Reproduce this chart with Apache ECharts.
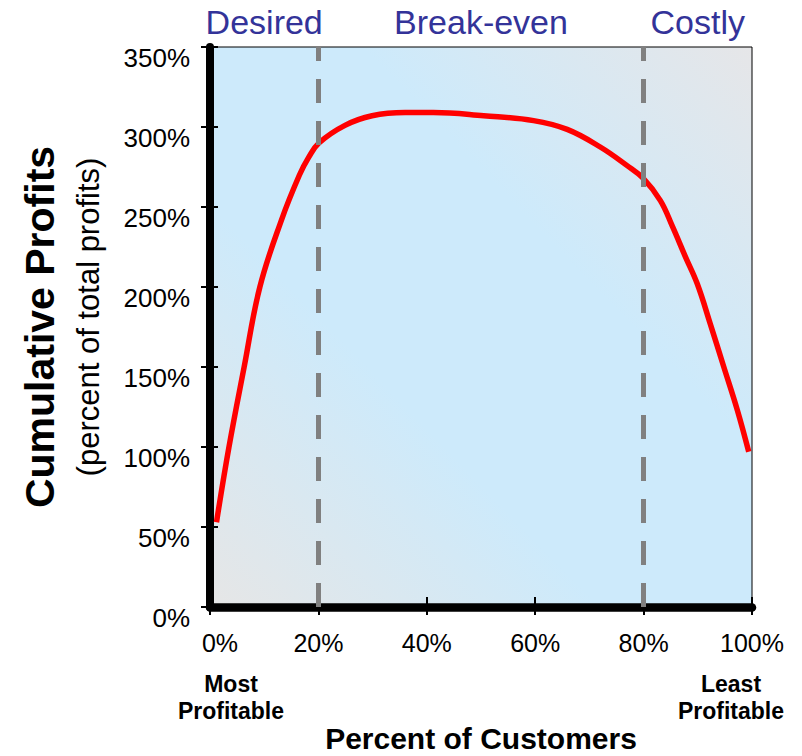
<!DOCTYPE html>
<html>
<head>
<meta charset="utf-8">
<script src="https://cdn.jsdelivr.net/npm/echarts@6/dist/echarts.min.js"></script>
<style>
  html, body { margin: 0; padding: 0; background: #ffffff; }
  #chart { width: 802px; height: 756px; }
</style>
</head>
<body>
<div id="chart"></div>
<script>
// ---- data ----
const customerPct = [1.2, 3.5, 6.3, 9.2, 13.2, 16.5, 18.2, 20.1, 24.9, 29.9, 36.0, 41.2, 50.5, 59.7, 65.9, 72.0, 76.9, 79.9, 83.1, 85.3, 87.7, 89.9, 92.3, 94.8, 97.3, 99.4];
const cumulativeProfit = [53, 100, 150, 200, 242, 270, 281, 290, 301, 307, 309, 309, 307, 304, 298.5, 287.5, 276, 268, 254, 238, 219, 202, 177, 150, 123, 97];
const zoneNames = ['Desired', 'Break-even', 'Costly'];
const zoneEdges = [0, 20, 80, 100];
const dividerPct = [20, 80];
const endNotes = ['Most\nProfitable', 'Least\nProfitable'];
const xTitle = 'Percent of Customers';
const yTitle = 'Cumulative Profits';
const ySubtitle = '(percent of total profits)';

const FONT = '"Liberation Sans", Arial, Helvetica, sans-serif';

const seriesData = customerPct.map((x, i) => [x, cumulativeProfit[i]]);
const zoneAreas = zoneNames.map((n, i) => [
  { name: n, xAxis: zoneEdges[i] },
  { xAxis: zoneEdges[i + 1] }
]);

const chart = echarts.init(document.getElementById('chart'), null, { renderer: 'svg' });

const option = {
  animation: false,
  backgroundColor: '#ffffff',
  grid: {
    left: 210, right: 50, top: 47, bottom: 149,
    outerBoundsMode: 'none',
    containLabel: false,
    show: true,
    borderColor: '#000000',
    borderWidth: 1,
    backgroundColor: {
      type: 'linear', x: 0, y: 1, x2: 1, y2: 0,
      colorStops: [
        { offset: 0, color: '#e6e6e6' },
        { offset: 0.36, color: '#cdeafb' },
        { offset: 0.64, color: '#cdeafb' },
        { offset: 1, color: '#e6e6e8' }
      ]
    }
  },
  xAxis: [
    {
      type: 'value', min: 0, max: 100, interval: 20, offset: 4.5,
      axisLine: { show: true, lineStyle: { color: '#000', width: 8.5, cap: 'round' } },
      axisTick: { show: true, inside: false, length: 8, lineStyle: { color: '#000', width: 2 } },
      axisLabel: {
        show: true, margin: 19, color: '#000', fontSize: 25, fontFamily: FONT,
        formatter: v => v === 0 ? '{sp| }{n|0%}' : v + '%',
        rich: {
          sp: { width: 20, fontSize: 25, fontFamily: FONT },
          n: { fontSize: 25, fontFamily: FONT, color: '#000' }
        }
      },
      splitLine: { show: false },
      name: xTitle,
      nameLocation: 'middle',
      nameGap: 112,
      nameTextStyle: { color: '#000', fontSize: 30, fontWeight: 'bold', fontFamily: FONT }
    },
    {
      type: 'value', min: 0, max: 100, interval: 20, offset: 4.5, position: 'bottom',
      axisLine: { show: false },
      axisTick: { show: true, inside: true, length: 10, lineStyle: { color: '#000', width: 2 } },
      axisLabel: { show: false },
      splitLine: { show: false }
    }
  ],
  yAxis: [
    {
      type: 'value', min: 0, max: 350, interval: 50,
      axisLine: { show: true, lineStyle: { color: '#000', width: 8 } },
      axisTick: { show: true, inside: false, length: 9, lineStyle: { color: '#000', width: 2 } },
      axisLabel: {
        show: true, margin: 20, color: '#000', fontSize: 26, fontFamily: FONT,
        verticalAlign: 'top', lineHeight: 22,
        formatter: v => v + '%'
      },
      splitLine: { show: false },
      name: '{t|' + yTitle + '}\n{s|' + ySubtitle + '}',
      nameLocation: 'middle',
      nameRotate: 90,
      nameGap: 99,
      nameTextStyle: {
        rich: {
          t: { fontSize: 41, fontWeight: 'bold', lineHeight: 50, color: '#000', fontFamily: FONT },
          s: { fontSize: 31, lineHeight: 46, color: '#000', fontFamily: FONT, padding: [0, 0, 0, 20] }
        }
      }
    },
    {
      type: 'value', min: 0, max: 350, interval: 50, position: 'left',
      axisLine: { show: false },
      axisTick: { show: true, inside: true, length: 8, lineStyle: { color: '#000', width: 2 } },
      axisLabel: { show: false },
      splitLine: { show: false }
    }
  ],
  series: [
    {
      type: 'line',
      data: seriesData,
      smooth: 0.4,
      showSymbol: false,
      silent: true,
      z: 3,
      lineStyle: { color: '#ff0000', width: 5.5 },
      markArea: {
        silent: true,
        itemStyle: { color: 'rgba(0,0,0,0)' },
        label: {
          show: true, position: 'top', distance: 8,
          color: '#333399', fontSize: 34, fontFamily: FONT
        },
        data: zoneAreas
      },
      markLine: {
        silent: true,
        symbol: ['none', 'none'],
        label: { show: false },
        lineStyle: { color: '#808080', width: 5, type: [24, 18], opacity: 1 },
        emphasis: { disabled: true },
        data: dividerPct.map(v => ({ xAxis: v }))
      }
    }
  ],
  graphic: [
    {
      type: 'text', x: 231, y: 670, silent: true,
      style: { text: endNotes[0], fontSize: 23, fontWeight: 'bold', fontFamily: FONT, fill: '#000', align: 'center', verticalAlign: 'top', lineHeight: 27 }
    },
    {
      type: 'text', x: 731, y: 670, silent: true,
      style: { text: endNotes[1], fontSize: 23, fontWeight: 'bold', fontFamily: FONT, fill: '#000', align: 'center', verticalAlign: 'top', lineHeight: 27 }
    }
  ]
};

chart.setOption(option);
</script>
</body>
</html>
